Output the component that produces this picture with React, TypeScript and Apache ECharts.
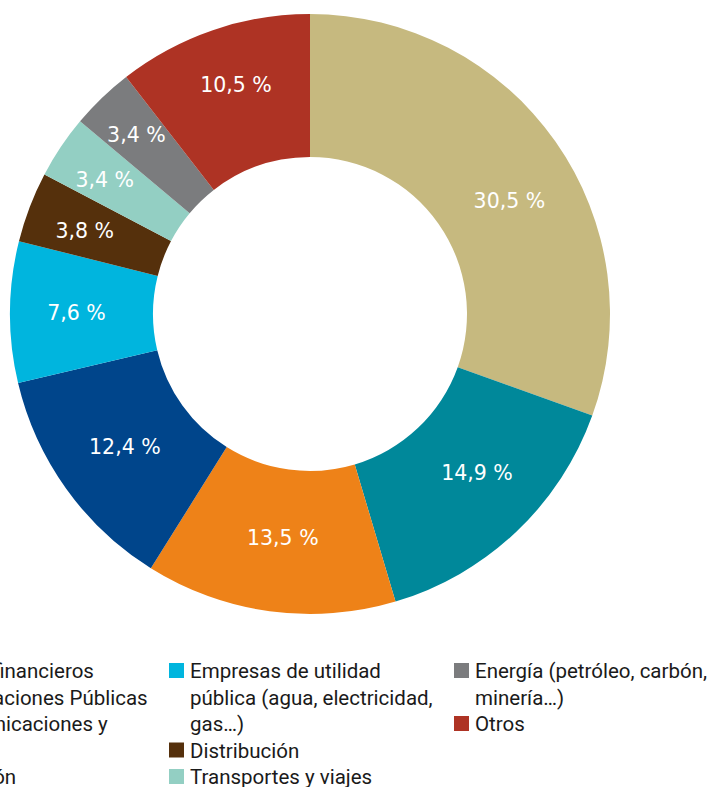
import React, { useEffect, useRef } from "react";
import * as echarts from "echarts";

const categories = [
  "Servicios financieros",
  "Administraciones Públicas",
  "Telecomunicaciones y medios",
  "Automoción",
  "Empresas de utilidad pública (agua, electricidad, gas…)",
  "Distribución",
  "Transportes y viajes",
  "Energía (petróleo, carbón, minería…)",
  "Otros",
];
const values = [30.5, 14.9, 13.5, 12.4, 7.6, 3.8, 3.4, 3.4, 10.5];
const colors = [
  "#C6B97F",
  "#00889A",
  "#EE8218",
  "#00458B",
  "#00B5DE",
  "#55300C",
  "#93CFC3",
  "#7B7C7E",
  "#AE3324",
];
const legendLines = [
  ["Servicios financieros"],
  ["Administraciones Públicas"],
  ["Telecomunicaciones y", "medios"],
  ["Automoción"],
  ["Empresas de utilidad", "pública (agua, electricidad,", "gas…)"],
  ["Distribución"],
  ["Transportes y viajes"],
  ["Energía (petróleo, carbón,", "minería…)"],
  ["Otros"],
];
const legendColumn = [0, 0, 0, 0, 1, 1, 1, 2, 2];
// style only: small nudges of the value labels inside their slices
const labelNudge = [
  [10, 20],
  [8, -9],
  [4, -5],
  [3, -2],
  [-2, 0],
  [-9, 0],
  [-13, -5],
  [-13, -12],
  [1, -10],
];

const OFF = 140;
const FONT = "Roboto, 'DejaVu Sans', sans-serif";
const LABEL_FONT = "'DejaVu Sans', sans-serif";

export default function App() {
  const ref = useRef<HTMLDivElement>(null);
  useEffect(() => {
    if (!ref.current) return;
    const chart = echarts.init(ref.current, null, { renderer: "svg" });
    const colX = [-116 + OFF, 169 + OFF, 454 + OFF];
    const y0 = 670;
    const lh = 26.5;
    const rowCount = [0, 0, 0];
    const graphics: any[] = [];
    categories.forEach((c, i) => {
      const col = legendColumn[i];
      const row = rowCount[col];
      const yc = y0 + row * lh;
      graphics.push({
        type: "rect",
        shape: { x: colX[col], y: yc - 7, width: 15, height: 15 },
        style: { fill: colors[i] },
      });
      legendLines[i].forEach((line, k) => {
        graphics.push({
          type: "text",
          style: {
            text: line,
            x: colX[col] + 21,
            y: yc + k * lh + 1,
            fontSize: 20.5,
            fontFamily: FONT,
            fill: "#1a1a1a",
            verticalAlign: "middle",
          },
        });
      });
      rowCount[col] += legendLines[i].length;
    });

    chart.setOption({
      animation: false,
      color: colors,
      graphic: graphics,
      series: [
        {
          type: "pie",
          center: [310 + OFF, 314],
          radius: [157, 300],
          startAngle: 90,
          clockwise: true,
          avoidLabelOverlap: false,
          label: {
            show: true,
            position: "inside",
            color: "#ffffff",
            fontSize: 20.5,
            fontFamily: LABEL_FONT,
            formatter: (p: any) => String(p.value.toFixed(1)).replace(".", ",") + " %",
          },
          labelLine: { show: false },
          emphasis: { disabled: true },
          data: categories.map((name, i) => ({
            name,
            value: values[i],
            label: { offset: labelNudge[i] },
          })),
        },
      ],
    });
    return () => chart.dispose();
  }, []);
  return (
    <div style={{ position: "absolute", left: 0, top: 0, width: 718, height: 787, overflow: "hidden", background: "#fff" }}>
      <div ref={ref} style={{ position: "absolute", left: -OFF, top: 0, width: 718 + OFF, height: 787 }} />
    </div>
  );
}
